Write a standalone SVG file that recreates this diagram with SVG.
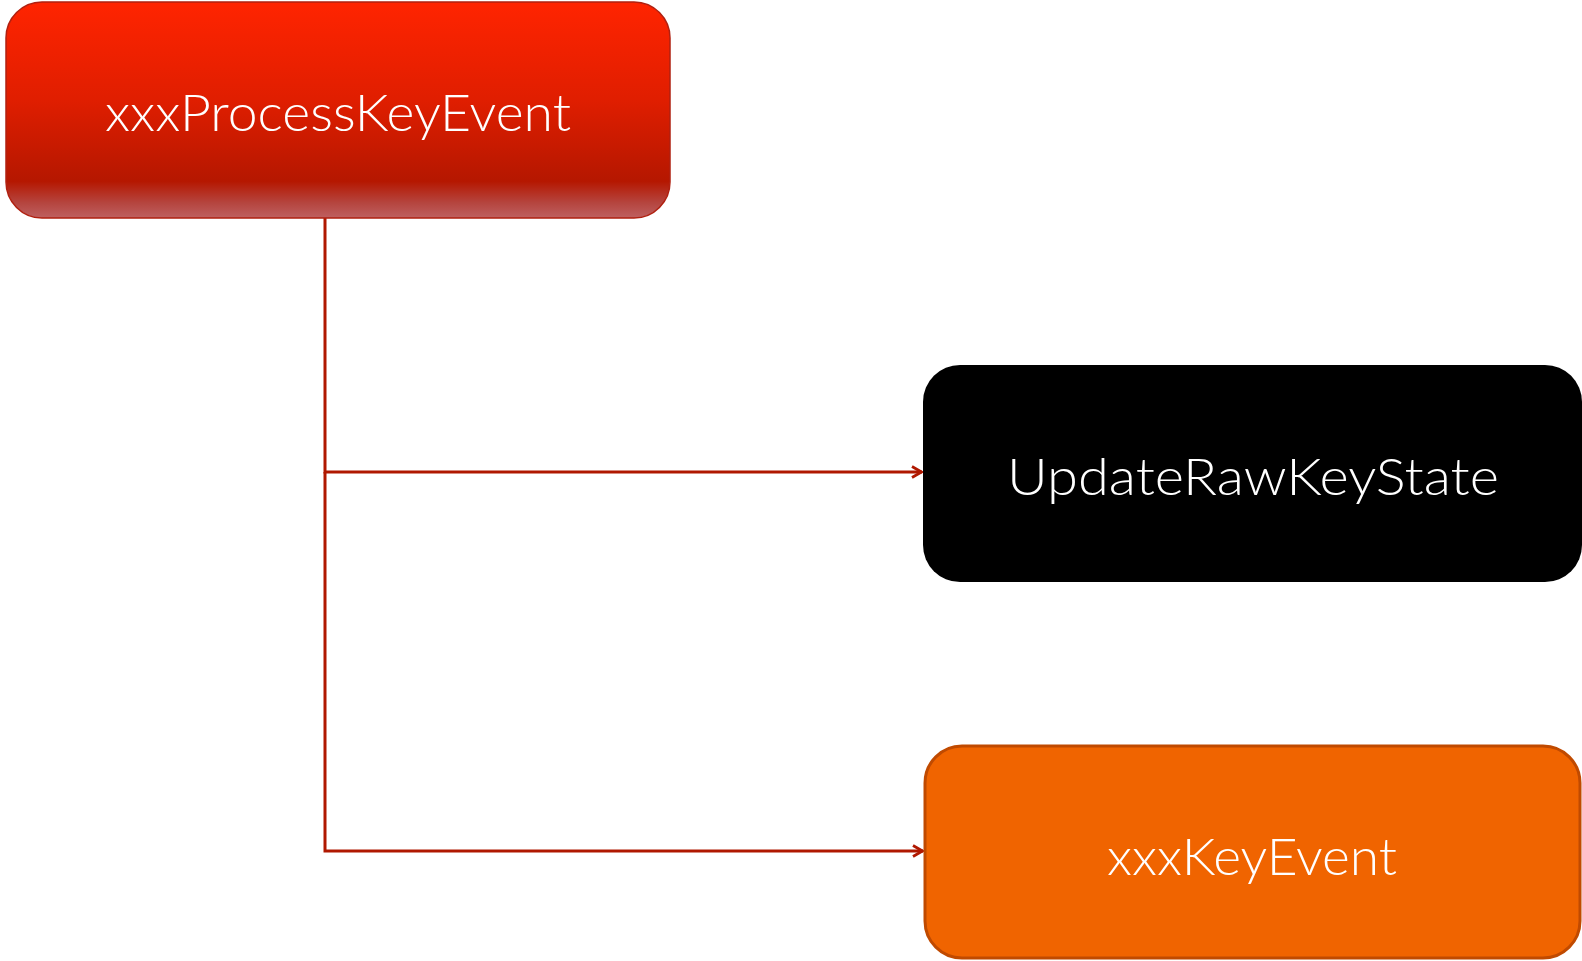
<svg xmlns="http://www.w3.org/2000/svg" width="1582" height="961" viewBox="0 0 1582 961">
<defs>
<linearGradient id="redGrad" x1="0" y1="0" x2="0" y2="1">
<stop offset="0" stop-color="#FF2400"/>
<stop offset="0.45" stop-color="#E01E00"/>
<stop offset="0.83" stop-color="#B51700"/>
<stop offset="0.93" stop-color="#B5453F"/>
<stop offset="1" stop-color="#BE6060"/>
</linearGradient>
<marker id="arr" viewBox="0 0 14 14" refX="13" refY="7" markerWidth="14" markerHeight="14" markerUnits="userSpaceOnUse" orient="auto">
<path d="M3,1.5 L12.5,7 L3,12.5" fill="none" stroke="#B01800" stroke-width="2.8"/>
</marker>
<style>
.lbl{font-family:"Lato","Noto Sans","Liberation Sans",sans-serif;font-weight:300;fill:#FFFFFF;text-anchor:middle;font-size:52px}
.conn{fill:none;stroke:#B01800;stroke-width:3}
</style>
</defs>
<g id="connectors">
<path class="conn" d="M325,218 L325,472 L922,472" marker-end="url(#arr)"/>
<path class="conn" d="M325,472 L325,851 L923,851" marker-end="url(#arr)"/>
</g>
<g id="node-xxxProcessKeyEvent">
<rect x="6" y="2" width="664" height="216" rx="36" ry="36" fill="url(#redGrad)" stroke="#B02010" stroke-width="1.5"/>
<text class="lbl" x="338" y="131" textLength="466" lengthAdjust="spacingAndGlyphs">xxxProcessKeyEvent</text>
</g>
<g id="node-UpdateRawKeyState">
<rect x="923" y="365" width="659" height="217" rx="37" ry="37" fill="#000000"/>
<text class="lbl" x="1253" y="495" textLength="492" lengthAdjust="spacingAndGlyphs">UpdateRawKeyState</text>
</g>
<g id="node-xxxKeyEvent">
<rect x="925" y="746" width="655" height="212" rx="37" ry="37" fill="#F06400" stroke="#C04A00" stroke-width="3"/>
<text class="lbl" x="1252" y="875" textLength="290" lengthAdjust="spacingAndGlyphs">xxxKeyEvent</text>
</g>
</svg>
